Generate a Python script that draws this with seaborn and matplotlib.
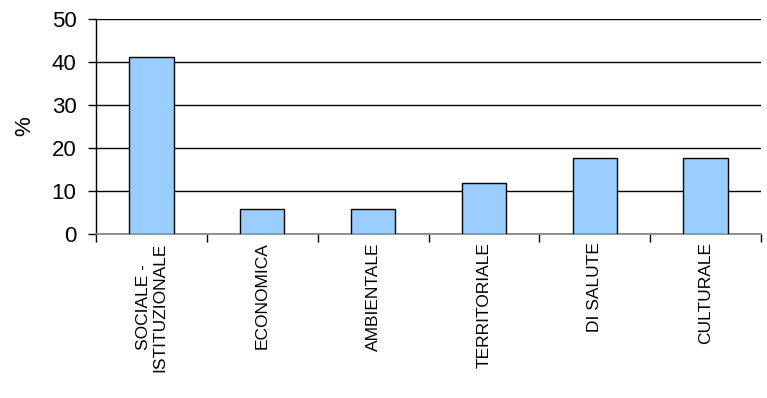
import matplotlib
matplotlib.use("Agg")
import matplotlib.pyplot as plt
import seaborn as sns
import pandas as pd
from matplotlib.ticker import FixedLocator

categories = ["SOCIALE -\nISTITUZIONALE", "ECONOMICA", "AMBIENTALE", "TERRITORIALE", "DI SALUTE", "CULTURALE"]
values = [41.2, 5.9, 5.9, 11.8, 17.6, 17.6]

sns.set_theme(style="white")
plt.rcParams['font.family'] = ['Liberation Sans', 'DejaVu Sans']

df = pd.DataFrame({"cat": categories, "val": values})

fig = plt.figure(figsize=(7.67, 3.98), dpi=100)
ax = fig.add_axes([96/767, 1 - 234/398, (761 - 96)/767, (234 - 19)/398])

sns.barplot(data=df, x="cat", y="val", ax=ax, color="#99CCFF", saturation=1,
            edgecolor="black", linewidth=1, width=0.4, zorder=3)

ax.set_ylim(0, 50)
ax.set_xlim(-0.5, len(categories) - 0.5)
ax.set_yticks([0, 10, 20, 30, 40, 50])
ax.yaxis.grid(True, color="black", linewidth=1)
ax.set_axisbelow(True)

for s in ["top", "right"]:
    ax.spines[s].set_visible(False)
ax.spines["left"].set_color("black")
ax.spines["left"].set_linewidth(1)
ax.spines["bottom"].set_color("#808080")
ax.spines["bottom"].set_linewidth(1.2)

ax.tick_params(axis="y", which="major", left=True, length=6, width=1, color="black",
               labelsize=16, pad=8, labelcolor="black")
ax.tick_params(axis="x", which="major", length=0, labelsize=12.5, pad=6, labelcolor="black")
ax.xaxis.set_minor_locator(FixedLocator([i - 0.5 for i in range(len(categories) + 1)]))
ax.tick_params(axis="x", which="minor", bottom=True, length=6, width=1, color="black")

for lbl in ax.get_xticklabels():
    lbl.set_rotation(90)
    lbl.set_ha("center")
    lbl.set_va("top")
    lbl.set_multialignment("center")
    lbl.set_linespacing(1.1)

ax.set_xlabel("")
ax.set_ylabel("%", fontsize=16, labelpad=12, color="black")

fig.savefig("out.png", dpi=100)
